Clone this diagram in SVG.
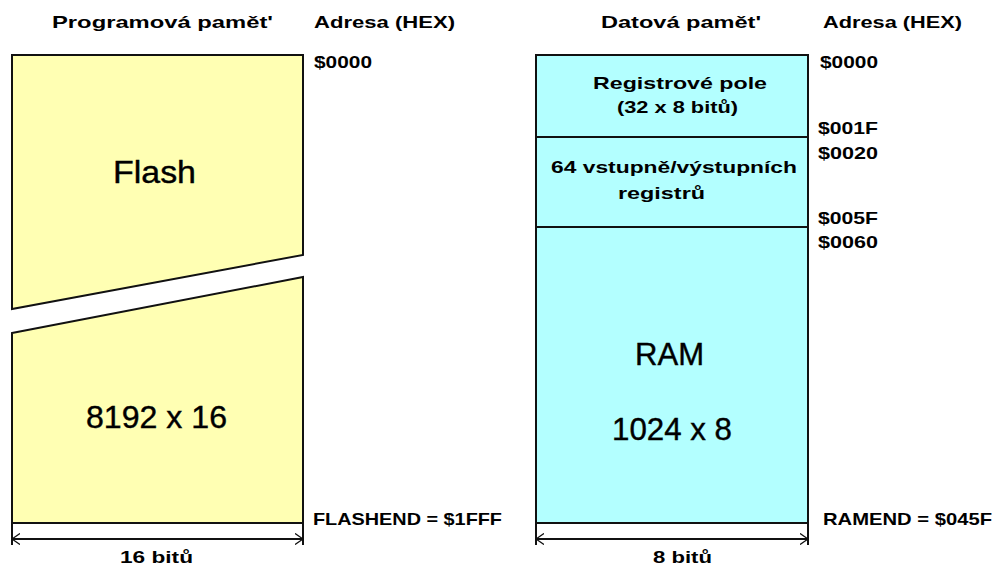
<svg xmlns="http://www.w3.org/2000/svg" width="1003" height="569" viewBox="0 0 1003 569">
  <style>
    .lbl { font-family: "Liberation Sans", Arial, sans-serif; font-weight: bold; font-size: 17px; fill: #000; }
    .big { font-family: "Liberation Sans", Arial, sans-serif; font-size: 31px; fill: #000; stroke: #000; stroke-width: 0.4; }
    .flash { fill: #FFFFB3; stroke: #111; stroke-width: 2; stroke-linejoin: miter; }
    .data { fill: #B3FFFF; stroke: #111; stroke-width: 2; }
    .tick { stroke: #111; stroke-width: 2; fill: none; }
    .dim { stroke: #111; stroke-width: 2; fill: none; }
  </style>
  <defs>
    <marker id="chev" viewBox="0 0 10 14" refX="10" refY="7" markerWidth="8" markerHeight="12" markerUnits="userSpaceOnUse" orient="auto-start-reverse">
      <path d="M0,0 L10,7 L0,14" fill="none" stroke="#111" stroke-width="1.5"/>
    </marker>
  </defs>
  <rect width="1003" height="569" fill="#FFFFFF"/>

  <!-- Program memory -->
  <g id="prog-title">
    <text class="lbl" x="52" y="28" textLength="221" lengthAdjust="spacingAndGlyphs">Programová pamět'</text>
    <text class="lbl" x="314" y="28" textLength="141" lengthAdjust="spacingAndGlyphs">Adresa (HEX)</text>
  </g>
  <g id="flash-upper">
    <polygon class="flash" points="12,55 303,55 303,255 12,309"/>
    <text class="big" x="113" y="183" textLength="83" lengthAdjust="spacingAndGlyphs">Flash</text>
  </g>
  <g id="flash-lower">
    <polygon class="flash" points="12,333 303,277 303,523 12,523"/>
    <text class="big" x="86" y="428" textLength="141" lengthAdjust="spacingAndGlyphs">8192 x 16</text>
  </g>
  <g id="prog-addresses">
    <text class="lbl" x="314" y="68" textLength="58" lengthAdjust="spacingAndGlyphs">$0000</text>
    <text class="lbl" x="313" y="525" textLength="189" lengthAdjust="spacingAndGlyphs">FLASHEND = $1FFF</text>
  </g>

  <!-- Data memory -->
  <g id="data-title">
    <text class="lbl" x="601" y="28" textLength="160" lengthAdjust="spacingAndGlyphs">Datová pamět'</text>
    <text class="lbl" x="823" y="28" textLength="139" lengthAdjust="spacingAndGlyphs">Adresa (HEX)</text>
  </g>
  <g id="reg-file">
    <rect class="data" x="536" y="55" width="272" height="82"/>
    <text class="lbl" x="593" y="89" textLength="174" lengthAdjust="spacingAndGlyphs">Registrové pole</text>
    <text class="lbl" x="617" y="113" textLength="121" lengthAdjust="spacingAndGlyphs">(32 x 8 bitů)</text>
  </g>
  <g id="io-regs">
    <rect class="data" x="536" y="137" width="272" height="90"/>
    <text class="lbl" x="551" y="173" textLength="246" lengthAdjust="spacingAndGlyphs">64 vstupně/výstupních</text>
    <text class="lbl" x="618" y="199" textLength="87" lengthAdjust="spacingAndGlyphs">registrů</text>
  </g>
  <g id="ram">
    <rect class="data" x="536" y="227" width="272" height="296"/>
    <text class="big" x="635" y="365" textLength="69" lengthAdjust="spacingAndGlyphs">RAM</text>
    <text class="big" x="612" y="440" textLength="120" lengthAdjust="spacingAndGlyphs">1024 x 8</text>
  </g>
  <g id="data-addresses">
    <text class="lbl" x="820" y="68" textLength="58" lengthAdjust="spacingAndGlyphs">$0000</text>
    <text class="lbl" x="818" y="134" textLength="60" lengthAdjust="spacingAndGlyphs">$001F</text>
    <text class="lbl" x="818" y="159" textLength="60" lengthAdjust="spacingAndGlyphs">$0020</text>
    <text class="lbl" x="818" y="224" textLength="60" lengthAdjust="spacingAndGlyphs">$005F</text>
    <text class="lbl" x="818" y="248" textLength="60" lengthAdjust="spacingAndGlyphs">$0060</text>
    <text class="lbl" x="823" y="525" textLength="169" lengthAdjust="spacingAndGlyphs">RAMEND = $045F</text>
  </g>

  <!-- Connectors: width dimensions -->
  <g id="connectors">
    <line class="tick" x1="12" y1="523" x2="12" y2="545"/>
    <line class="tick" x1="303" y1="523" x2="303" y2="545"/>
    <line class="dim" x1="12" y1="539" x2="303" y2="539" marker-start="url(#chev)" marker-end="url(#chev)"/>
    <line class="tick" x1="536" y1="523" x2="536" y2="545"/>
    <line class="tick" x1="808" y1="523" x2="808" y2="545"/>
    <line class="dim" x1="536" y1="539" x2="808" y2="539" marker-start="url(#chev)" marker-end="url(#chev)"/>
  </g>
  <g id="dim-labels">
    <text class="lbl" x="120" y="563" textLength="73" lengthAdjust="spacingAndGlyphs">16 bitů</text>
    <text class="lbl" x="653" y="563" textLength="59" lengthAdjust="spacingAndGlyphs">8 bitů</text>
  </g>
</svg>
